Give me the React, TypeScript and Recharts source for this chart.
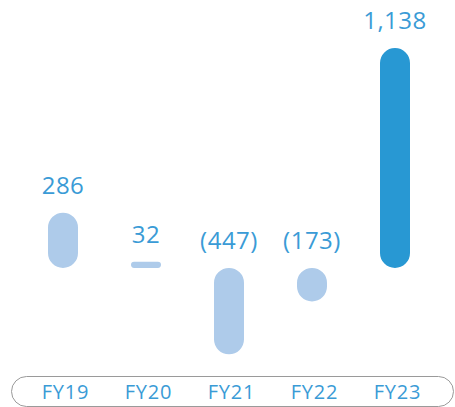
import React from 'react';
import { BarChart, Bar, XAxis, YAxis, Cell, LabelList } from 'recharts';

const categories = ['FY19', 'FY20', 'FY21', 'FY22', 'FY23'];
const values = [286, 32, -447, -173, 1138];
const highlighted = [false, false, false, false, true];

const data = categories.map((name, i) => ({ name, value: values[i] }));

const LIGHT = '#aecbea';
const DARK = '#2898d3';
const TEXT = '#3a9bd6';
const FONT = '"Open Sans", sans-serif';

const fmt = (v: number) => {
    const s = Math.abs(v).toLocaleString('en-US');
    return v < 0 ? `(${s})` : s;
};

const ValueLabel = (props: any) => {
    const { x, y, width, height, value } = props;
    const top = Math.min(y, y + height);
    return (
        <text
            x={x + width / 2}
            y={top - 19}
            textAnchor="middle"
            fill={TEXT}
            fontSize={24}
            letterSpacing={0.5}
            fontFamily={FONT}
        >
            {fmt(value)}
        </text>
    );
};

const Tick = (props: any) => {
    const { x, payload } = props;
    return (
        <text
            x={x + 3}
            y={399}
            textAnchor="middle"
            fill={TEXT}
            fontSize={20}
            letterSpacing={0.8}
            fontFamily={FONT}
        >
            {payload.value}
        </text>
    );
};

export default function App() {
    return (
        <div style={{ position: 'relative', width: 455, height: 407 }}>
            <style>{`body{margin:0}`}</style>
            <div
                style={{
                    position: 'absolute',
                    left: 11,
                    top: 376,
                    width: 441,
                    height: 29,
                    border: '1.5px solid #9a9a9a',
                    borderRadius: 16,
                }}
            />
            <BarChart
                width={455}
                height={407}
                data={data}
                margin={{ top: 48, right: 19, bottom: 0, left: 21 }}
                style={{ position: 'absolute', left: 0, top: 0 }}
            >
                <YAxis hide domain={[-528, 1138]} />
                <XAxis dataKey="name" height={37} axisLine={false} tickLine={false} tick={<Tick />} interval={0} />
                <Bar dataKey="value" barSize={30} radius={15} isAnimationActive={false}>
                    {data.map((d, i) => (
                        <Cell key={d.name} fill={highlighted[i] ? DARK : LIGHT} />
                    ))}
                    <LabelList dataKey="value" content={<ValueLabel />} />
                </Bar>
            </BarChart>
        </div>
    );
}
